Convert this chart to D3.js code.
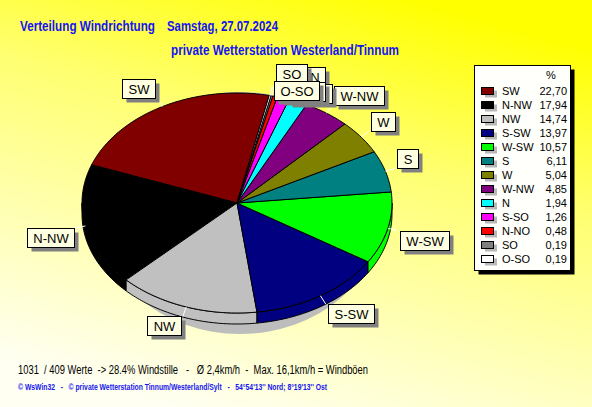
<!DOCTYPE html>
<html><head><meta charset="utf-8">
<script src="https://cdn.jsdelivr.net/npm/d3@7"></script>
<style>body{margin:0;padding:0;overflow:hidden;} svg{display:block;} text{white-space:pre;}</style>
</head><body>
<svg id="c" width="592" height="407"></svg>
<script>
const categories = ["SW","N-NW","NW","S-SW","W-SW","S","W","W-NW","N","S-SO","N-NO","SO","O-SO"];
const values = [22.70,17.94,14.74,13.97,10.57,6.11,5.04,4.85,1.94,1.26,0.48,0.19,0.19];
const colors = ["#800000","#000000","#c0c0c0","#000080","#00ff00","#008080","#808000","#800080","#00ffff","#ff00ff","#ff0000","#808080","#ffffff"];
const labelNudgeY = [0,0,0,0,0,0,0,0,-7,14.5,14,-3,14];
const titleLine1a = "Verteilung Windrichtung";
const titleLine1b = "Samstag, 27.07.2024";
const titleLine2 = "private Wetterstation Westerland/Tinnum";
const infoText = "1031  / 409 Werte  -> 28.4% Windstille   -   Ø 2,4km/h  -  Max. 16,1km/h = Windböen";
const footerText = "© WsWin32   -   © private Wetterstation Tinnum/Westerland/Sylt   -   54°54'13'' Nord; 8°19'13'' Ost";

const svg = d3.select("#c");
const W = 592, H = 407;
const defs = svg.append("defs");
const g0 = defs.append("linearGradient").attr("id","bg").attr("x1",0.7).attr("y1",0).attr("x2",0.3).attr("y2",1);
g0.append("stop").attr("offset",0).attr("stop-color","#ffff00");
g0.append("stop").attr("offset",0.35).attr("stop-color","#ffff70");
g0.append("stop").attr("offset",1).attr("stop-color","#fffff2");
svg.append("rect").attr("width",W).attr("height",H).attr("fill","url(#bg)");

const FONT = "'Liberation Sans', Arial, sans-serif";

function fitText(sel, txt, x, y, len, size, weight, color){
  return sel.append("text").attr("x",x).attr("y",y).attr("xml:space","preserve").text(txt)
    .attr("font-family",FONT).attr("font-size",size).attr("font-weight",weight)
    .attr("fill",color).attr("textLength",len).attr("lengthAdjust","spacingAndGlyphs");
}
fitText(svg, titleLine1a, 20, 30.5, 135, 14, "bold", "#1414f0");
fitText(svg, titleLine1b, 167, 30.5, 111, 14, "bold", "#1414f0");
fitText(svg, titleLine2, 171, 54.5, 228, 14, "bold", "#1414f0");
fitText(svg, infoText, 18, 373.5, 350, 12, "normal", "#000000");
fitText(svg, footerText, 18, 389.5, 309, 9, "bold", "#1414f0");

// pie geometry
const cx = 237, cy = 203, rx = 155, ry = 110, depth = 11, L = 10;
const start = 12 * Math.PI/180;
const pie = d3.pie().sort(null).value(d => d.v).startAngle(start).endAngle(start - 2*Math.PI);
const data = categories.map((c,i) => ({c, v: values[i], col: colors[i], i}));
const arcs = pie(data);
const pt = (a, r1=rx, r2=ry, dy=0) => [cx + r1*Math.sin(a), cy - r2*Math.cos(a) + dy];
const line = d3.line();
function arcPts(a0, a1, dy, n){
  n = n || Math.max(4, Math.ceil(Math.abs(a1-a0)*60));
  return d3.range(n+1).map(k => pt(a0 + (a1-a0)*k/n, rx, ry, dy));
}

// shadow
svg.append("ellipse").attr("cx",cx+3).attr("cy",cy+10).attr("rx",rx-13).attr("ry",ry+11).attr("fill","#bdbdbd");

// sides (front half)
const gSide = svg.append("g");
arcs.forEach(a => {
  let a0 = Math.min(a.startAngle, a.endAngle), a1 = Math.max(a.startAngle, a.endAngle);
  for (let k=-2;k<=1;k++){
    const f0 = Math.PI/2 + k*2*Math.PI, f1 = 3*Math.PI/2 + k*2*Math.PI;
    const s0 = Math.max(a0,f0), s1 = Math.min(a1,f1);
    if (s1 > s0){
      const top = arcPts(s0, s1, 0);
      const bot = arcPts(s1, s0, depth);
      gSide.append("path").attr("d", line(top.concat(bot)) + "Z")
        .attr("fill", a.data.col).attr("stroke","#000").attr("stroke-width",1).attr("stroke-linejoin","round");
    }
  }
});

// top faces
const gTop = svg.append("g");
arcs.forEach(a => {
  const pts = [[cx,cy]].concat(arcPts(a.startAngle, a.endAngle, 0));
  gTop.append("path").attr("d", line(pts)+"Z").attr("fill", a.data.col)
    .attr("stroke","#000").attr("stroke-width",1).attr("stroke-linejoin","round");
});

// labels
const gLab = svg.append("g");
const measure = svg.append("text").attr("font-family",FONT).attr("font-size",13).attr("visibility","hidden");
arcs.forEach(a => {
  const m = (a.startAngle + a.endAngle)/2;
  const p0 = pt(m), p1 = pt(m, rx+L, ry+L);
  gLab.append("line").attr("x1",p0[0]).attr("y1",p0[1]).attr("x2",p1[0]).attr("y2",p1[1])
    .attr("stroke","#ffffff").attr("stroke-width",1);
});
arcs.forEach(a => {
  const m = (a.startAngle + a.endAngle)/2;
  const p1 = pt(m, rx+L, ry+L);
  measure.text(a.data.c);
  const tw = measure.node().getComputedTextLength();
  const bw = Math.round(tw + 12), bh = 19;
  let x = Math.sin(m) >= 0 ? p1[0] + 2 : p1[0] - 2 - bw;
  let y = Math.cos(m) >= 0 ? p1[1] - bh : p1[1];
  y += labelNudgeY[a.data.i];
  x = Math.round(x) + 0.5; y = Math.round(y) + 0.5;
  const g = gLab.append("g");
  g.append("rect").attr("x",x+4).attr("y",y+4).attr("width",bw).attr("height",bh).attr("fill","#808080");
  g.append("rect").attr("x",x).attr("y",y).attr("width",bw).attr("height",bh).attr("fill","#ffffe1").attr("stroke","#000");
  g.append("text").attr("x",x+bw/2).attr("y",y+14).attr("text-anchor","middle")
    .attr("font-family",FONT).attr("font-size",13).attr("fill","#000").text(a.data.c);
});
measure.remove();

// legend
const lx = 474.5, ly = 65.5, lw = 96, lh = 205;
svg.append("rect").attr("x",lx+4).attr("y",ly+4).attr("width",lw).attr("height",lh).attr("fill","#000");
svg.append("rect").attr("x",lx).attr("y",ly).attr("width",lw).attr("height",lh).attr("fill","#fffffb").attr("stroke","#000");
svg.append("text").attr("x",551).attr("y",79).attr("text-anchor","middle").attr("font-family",FONT).attr("font-size",11).text("%");
const fmt = d3.format(".2f");
const rowY = d3.scalePoint().domain(categories).range([91, 259]);
const leg = svg.append("g").selectAll("g").data(data).join("g").attr("transform", d => `translate(0,${rowY(d.c)})`);
leg.append("rect").attr("x",485).attr("y",-0.5).attr("width",12).attr("height",7).attr("fill","#b8b8b8");
leg.append("rect").attr("x",481.5).attr("y",-3.5).attr("width",12).attr("height",7).attr("fill",d=>d.col).attr("stroke","#000");
leg.append("text").attr("x",502).attr("y",4).attr("font-family",FONT).attr("font-size",11).attr("fill","#000").text(d=>d.c);
leg.append("text").attr("x",567).attr("y",4).attr("text-anchor","end").attr("font-family",FONT).attr("font-size",11).attr("fill","#000")
  .text(d=>fmt(d.v).replace(".",","));
</script>
</body></html>
